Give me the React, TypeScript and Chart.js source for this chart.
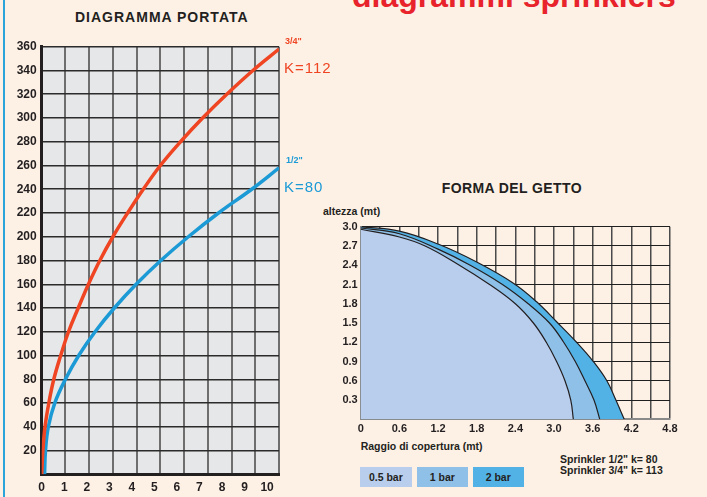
import React, { useEffect, useRef } from "react";
import { Chart, registerables } from "chart.js";

Chart.register(...registerables);

// ---- Diagramma portata (pressure bar -> flow l/min) ----
const redPressure = [0.0, 0.05, 0.14, 0.3, 0.51, 0.8, 1.13, 1.54, 1.97, 2.45, 3.0, 3.62, 4.28, 5.0, 5.85, 6.78, 7.8, 8.9, 10];
const redFlow = [0, 20, 40, 60, 80, 100, 120, 140, 160, 180, 200, 220, 240, 260, 280, 300, 320, 340, 358];
const bluePressure = [0.12, 0.16, 0.28, 0.55, 1.0, 1.56, 2.25, 3.06, 3.98, 5.02, 6.18, 7.45, 8.85, 10];
const blueFlow = [0, 20, 40, 60, 80, 100, 120, 140, 160, 180, 200, 220, 240, 258];
const pressureTicks = [0, 1, 2, 3, 4, 5, 6, 7, 8, 9, 10];

// ---- Forma del getto (radius m -> height m) ----
const radius2bar = [0, 0.6, 1.2, 1.8, 2.37, 2.73, 3.04, 3.35, 3.61, 3.82, 3.96, 4.09];
const height2bar = [3.0, 2.93, 2.73, 2.45, 2.12, 1.83, 1.52, 1.2, 0.9, 0.6, 0.3, 0];
const radius1bar = [0, 0.6, 1.2, 1.7, 2.2, 2.6, 2.93, 3.15, 3.33, 3.48, 3.62, 3.71];
const height1bar = [2.98, 2.89, 2.65, 2.4, 2.1, 1.8, 1.5, 1.2, 0.9, 0.6, 0.3, 0];
const radius05bar = [0, 0.6, 1.0, 1.5, 2.0, 2.4, 2.68, 2.88, 3.04, 3.17, 3.26, 3.3];
const height05bar = [2.96, 2.84, 2.7, 2.42, 2.1, 1.8, 1.5, 1.2, 0.9, 0.6, 0.3, 0];
const legendLabels = ["0.5 bar", "1 bar", "2 bar"];
const legendColors = ["#b9cdec", "#8fc0e8", "#52b2e6"];

const FONT = "'Liberation Sans', Arial, Helvetica, sans-serif";
const INK = "#231f20";
const CREAM = "#fdf1e6";
const RED = "#ef4523";
const BLUE = "#1b9ad6";

const toXY = (xs: number[], ys: number[]) => xs.map((x, i) => ({ x, y: ys[i] }));

const plotBg = {
  id: "plotBg",
  beforeDraw(chart: any, _a: any, opts: any) {
    if (!opts || !opts.color) return;
    const { ctx, chartArea } = chart;
    ctx.save();
    ctx.fillStyle = opts.color;
    ctx.fillRect(chartArea.left, chartArea.top, chartArea.right - chartArea.left, chartArea.bottom - chartArea.top);
    ctx.restore();
  },
};

export default function App() {
  const leftRef = useRef<HTMLCanvasElement>(null);
  const rightRef = useRef<HTMLCanvasElement>(null);

  useEffect(() => {
    const lineDs = (label: string, xs: number[], ys: number[], color: string) => ({
      label,
      data: toXY(xs, ys),
      borderColor: color,
      borderWidth: 3.5,
      pointRadius: 0,
      fill: false,
      tension: 0.4,
      xAxisID: "x",
      yAxisID: "y",
    });
    const left = new Chart(leftRef.current as HTMLCanvasElement, {
      type: "line",
      data: {
        datasets: [
          lineDs('3/4"', redPressure, redFlow, RED),
          lineDs('1/2"', bluePressure, blueFlow, BLUE),
        ] as any,
      },
      plugins: [plotBg],
      options: {
        animation: false,
        responsive: false,
        layout: { padding: { top: 46.7, right: 21, left: 0, bottom: 0 } },
        plugins: {
          legend: { display: false },
          tooltip: { enabled: false },
          plotBg: { color: "#e6e7e8" },
        } as any,
        scales: {
          x: {
            type: "linear",
            position: "bottom",
            weight: 0,
            min: 0,
            max: 10,
            ticks: { display: false, stepSize: 1 },
            grid: { color: "#6e6e6e", lineWidth: 2, drawTicks: false },
            border: { color: INK, width: 3 },
            afterFit: (s: any) => {
              s.height = 0;
            },
          },
          xl: {
            type: "linear",
            position: "bottom",
            weight: 1,
            min: 0,
            max: 10.53,
            afterBuildTicks: (s: any) => {
              s.ticks = pressureTicks.map((v) => ({ value: v }));
            },
            ticks: {
              stepSize: 1,
              includeBounds: false,
              autoSkip: false,
              maxRotation: 0,
              padding: 6,
              color: INK,
              font: { family: FONT, size: 12, weight: "bold" },
              callback: (v: any) => (Number.isInteger(v) ? String(v) : ""),
            },
            grid: { display: false, drawTicks: false },
            border: { display: false },
            afterFit: (s: any) => {
              s.height = 22.7;
            },
          },
          y: {
            type: "linear",
            min: 0,
            max: 360,
            ticks: {
              stepSize: 20,
              padding: 5,
              color: INK,
              font: { family: FONT, size: 12, weight: "bold" },
              callback: (v: any) => (v === 0 ? "" : String(v)),
            },
            grid: { color: "#2b2b2b", lineWidth: 1.5, drawTicks: false },
            border: { color: INK, width: 3 },
            afterFit: (s: any) => {
              s.width = 41.7;
            },
          },
        } as any,
      },
    });

    const fmt = (v: number) => (Math.abs(v) < 1e-9 ? "0" : (Math.round(v * 10) / 10).toFixed(1));
    const areaDs = (i: number, xs: number[], ys: number[]) => ({
      label: legendLabels[i],
      data: toXY(xs, ys),
      fill: "origin",
      backgroundColor: legendColors[i],
      borderColor: INK,
      borderWidth: 1.2,
      pointRadius: 0,
      tension: 0.4,
      order: i,
    });
    const right = new Chart(rightRef.current as HTMLCanvasElement, {
      type: "line",
      data: {
        datasets: [
          areaDs(0, radius05bar, height05bar),
          areaDs(1, radius1bar, height1bar),
          areaDs(2, radius2bar, height2bar),
        ] as any,
      },
      options: {
        animation: false,
        responsive: false,
        layout: { padding: { top: 31.7, right: 37, left: 0, bottom: 0 } },
        plugins: { legend: { display: false }, tooltip: { enabled: false } },
        scales: {
          x: {
            type: "linear",
            min: 0,
            max: 4.8,
            z: 1,
            ticks: {
              stepSize: 0.3,
              autoSkip: false,
              maxRotation: 0,
              padding: 3,
              color: INK,
              font: { family: FONT, size: 11, weight: "bold" },
              callback: (v: any) => (Math.round(v / 0.3) % 2 === 0 ? fmt(v) : ""),
            },
            grid: { color: "#4a4a4a", lineWidth: 1.5, drawTicks: false },
            border: { color: "#8a8a8a", width: 2 },
            afterFit: (s: any) => {
              s.height = 20.7;
            },
          },
          y: {
            type: "linear",
            min: 0,
            max: 3,
            z: 1,
            ticks: {
              stepSize: 0.3,
              autoSkip: false,
              padding: 3,
              color: INK,
              font: { family: FONT, size: 11, weight: "bold" },
              callback: (v: any) => (Math.abs(v) < 1e-9 ? "" : fmt(v)),
            },
            grid: { color: "#1f1f1f", lineWidth: 1, drawTicks: false },
            border: { color: "#8a8a8a", width: 2 },
            afterFit: (s: any) => {
              s.width = 60.7;
            },
          },
        } as any,
      },
    });

    return () => {
      left.destroy();
      right.destroy();
    };
  }, []);

  const abs = (l: number, t: number, extra: any = {}): React.CSSProperties => ({
    position: "absolute",
    left: l,
    top: t,
    whiteSpace: "nowrap",
    lineHeight: 1,
    fontFamily: FONT,
    ...extra,
  });

  return (
    <div
      style={{
        position: "absolute",
        left: 0,
        top: 0,
        width: 707,
        height: 497,
        overflow: "hidden",
        background: CREAM,
      }}
    >
      <div style={{ position: "absolute", left: 3, top: 0, width: 1.5, height: 497, background: "#2ba4dc" }} />
      <div style={abs(352, -20, { fontSize: 32, fontWeight: "bold", color: "#e8232b" })}>diagrammi sprinklers</div>
      <div style={abs(75, 9.8, { fontSize: 14, fontWeight: "bold", color: INK, letterSpacing: 1 })}>DIAGRAMMA PORTATA</div>
      <canvas ref={leftRef} width={300} height={497} style={{ position: "absolute", left: 0, top: 0, width: 300, height: 497 }} />
      <div style={abs(285, 37.1, { fontSize: 9, fontWeight: "bold", color: RED })}>3/4"</div>
      <div style={abs(284, 59.6, { fontSize: 15, color: RED, letterSpacing: 1 })}>K=112</div>
      <div style={abs(286, 155.6, { fontSize: 9, fontWeight: "bold", color: BLUE })}>1/2"</div>
      <div style={abs(284, 178.5, { fontSize: 15, color: BLUE, letterSpacing: 1 })}>K=80</div>

      <div style={abs(441.7, 181.4, { fontSize: 14, fontWeight: "bold", color: INK, letterSpacing: 0.4 })}>FORMA DEL GETTO</div>
      <div style={abs(323, 206.4, { fontSize: 10.5, fontWeight: "bold", color: INK })}>altezza (mt)</div>
      <canvas ref={rightRef} width={407} height={245} style={{ position: "absolute", left: 300, top: 195, width: 407, height: 245 }} />
      <div style={abs(360.7, 441.4, { fontSize: 10.5, fontWeight: "bold", color: INK })}>Raggio di copertura (mt)</div>
      <div style={abs(560, 453.9, { fontSize: 10.5, fontWeight: "bold", color: INK })}>Sprinkler 1/2" k= 80</div>
      <div style={abs(560, 465.4, { fontSize: 10.5, fontWeight: "bold", color: INK })}>Sprinkler 3/4" k= 113</div>
      {legendLabels.map((lab, i) => (
        <div
          key={lab}
          style={abs([360, 416.7, 472.7][i], 467.3, {
            width: [51.7, 51.3, 51][i],
            height: 19.4,
            background: legendColors[i],
            color: INK,
            fontSize: 10.5,
            fontWeight: "bold",
            display: "flex",
            alignItems: "center",
            justifyContent: "center",
          })}
        >
          {lab}
        </div>
      ))}
    </div>
  );
}
